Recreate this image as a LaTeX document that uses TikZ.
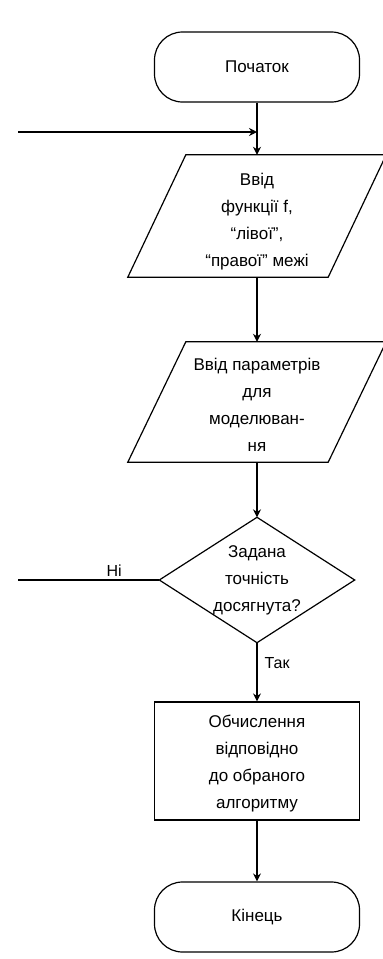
\documentclass[tikz,border=0pt]{standalone}
\usepackage{fontspec}
\setmainfont{Liberation Sans}
\usetikzlibrary{arrows.meta,calc}
\tikzset{
 base/.style={align=center, font=\fontsize{17}{27}\selectfont, inner sep=0pt},
 term/.style={base, draw, line width=1.2pt, rounded corners=28pt, minimum width=205pt, minimum height=70pt},
 proc/.style={base, draw, line width=1.2pt, minimum width=205pt, minimum height=118pt},
 iobox/.style={base, minimum width=200pt, minimum height=122pt},
 decbox/.style={base, minimum width=195pt, minimum height=125pt},
 conn/.style={line width=1.2pt, -{Stealth[length=8pt,width=8pt]}},
 plain/.style={line width=1.2pt},
 lbl/.style={font=\fontsize{16}{18}\selectfont, inner sep=1pt}
}
\begin{document}
\begin{tikzpicture}[x=1pt,y=-1pt]
\useasboundingbox (0,0) rectangle (383,959);
\fill[white] (0,0) rectangle (383,959);
\node[term] (start) at (257,67) {Початок};
\node[iobox] (p1) at (257,216) {};
\node[base] (p1t) at (257,222) {Ввід\\функції f,\\“лівої”,\\“правої” межі};
\draw[plain] ($(p1.north west)+(29,0)$) -- ($(p1.north east)+(29,0)$) -- ($(p1.south east)+(-29,0)$) -- ($(p1.south west)+(-29,0)$) -- cycle;
\node[iobox, minimum height=120pt] (p2) at (257,402) {};
\node[base] (p2t) at (257,405) {Ввід параметрів\\для\\моделюван-\\ня};
\draw[plain] ($(p2.north west)+(29,0)$) -- ($(p2.north east)+(29,0)$) -- ($(p2.south east)+(-29,0)$) -- ($(p2.south west)+(-29,0)$) -- cycle;
\node[decbox] (d) at (257,580) {Задана\\точність\\досягнута?};
\draw[plain] (d.north) -- (d.east) -- (d.south) -- (d.west) -- cycle;
\node[proc] (calc) at (257,761) {};
\node[base] (calct) at (257,764) {Обчислення\\відповідно\\до обраного\\алгоритму};
\node[term] (end) at (257,917) {Кінець};
\coordinate (j) at (257,132);
\coordinate (loopin) at (18,132);
\coordinate (noout) at (18,580);
\draw[plain] (start.south) -- (j);
\draw[conn] (loopin) -- (j);
\draw[conn] (j) -- (p1.north);
\draw[conn] (p1.south) -- (p2.north);
\draw[conn] (p2.south) -- (d.north);
\draw[conn] (d.south) -- node[lbl, pos=0.35, right=6pt] {Так} (calc.north);
\draw[plain] (d.west) -- node[lbl, above=2pt, pos=0.32] {Ні} (noout);
\draw[conn] (calc.south) -- (end.north);
\end{tikzpicture}
\end{document}
